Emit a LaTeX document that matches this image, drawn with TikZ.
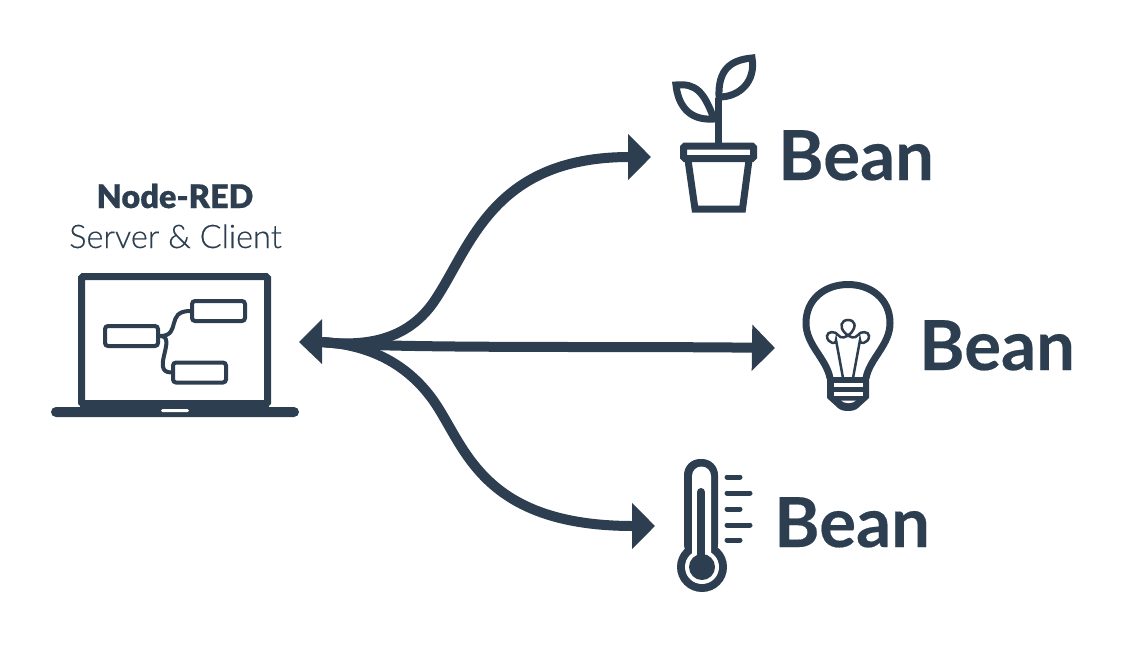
\documentclass[tikz,border=0pt]{standalone}
\usepackage{fontspec}
\setmainfont{Lato}
\newfontfamily\latolight[FakeBold=0.35]{Lato Light}
\newfontfamily\latoblack[FakeBold=0.5]{Lato Black}
\newfontfamily\latobean[FakeBold=0.25]{Lato Bold}
\usetikzlibrary{arrows.meta}
\definecolor{ink}{HTML}{2C3E50}
\tikzset{
  flow/.style={draw=ink,line width=10pt,-{Triangle[length=23pt,width=45pt]}},
  beanlabel/.style={text=ink,anchor=base west,inner sep=0pt,font=\latobean\fontsize{69}{69}\selectfont},
  captionbold/.style={text=ink,anchor=base,inner sep=0pt,font=\latoblack\fontsize{32.5}{32.5}\selectfont},
  captionlight/.style={text=ink,anchor=base,inner sep=0pt,font=\latolight\fontsize{32.5}{32.5}\selectfont},
  flowbox/.style={draw=ink,line width=4pt,rounded corners=3pt,fill=white,inner sep=0pt,minimum width=53pt,minimum height=20pt},
  wire/.style={draw=ink,line width=4pt},
  icon/.style={draw=ink,line width=7pt,line join=miter},
  tick/.style={draw=ink,line width=5pt,line cap=round},
}
\begin{document}
\begin{tikzpicture}[x=1pt,y=-1pt]
\useasboundingbox (0,0) rectangle (1126,646);
% text
\node[captionbold] (title) at (175,208) {Node-RED};
\node[captionlight] (sub) at (175.5,248) {Server \& Client};
\node[beanlabel] (bean1) at (778,180) {Bean};
\node[beanlabel] (bean2) at (919,370) {Bean};
\node[beanlabel] (bean3) at (774,547) {Bean};
% laptop
\draw[draw=ink,line width=7pt,rounded corners=1.5pt] (81.5,276.5) rectangle (267.5,404);
\fill[ink,rounded corners=5pt] (51,407) rectangle (299,417);
\fill[ink] (80,400) rectangle (269,409);
\fill[white,rounded corners=1.5pt] (161,409) rectangle (189,412);
\node[flowbox] (n1) at (131.5,336) {};
\node[flowbox] (n2) at (218.5,311) {};
\node[flowbox] (n3) at (199.5,372.5) {};
\draw[wire] (n1.east) .. controls (182,336) and (165,311) .. (n2.west);
\draw[wire] (n1.east) .. controls (178,336) and (150,372) .. (n3.west);
% connectors
\coordinate (hub) at (322,342);
\coordinate (hubtip) at (299,342);
\coordinate (plantin) at (651,157);
\coordinate (bulbin) at (775,348);
\coordinate (thermin) at (655,526);
\draw[flow] (hub) .. controls (375,348) and (410,335) .. (433,303)
  .. controls (470,250) and (490,157) .. (plantin);
\draw[flow] (hub) .. controls (380,349) and (620,346) .. (bulbin);
\draw[flow] (hub) .. controls (375,345) and (410,368) .. (433,400)
  .. controls (465,445) and (480,526) .. (thermin);
\fill[ink] (hubtip) -- (322,319) -- (322,364) -- cycle;
% plant
\draw[icon] (688,160) -- (695,209) -- (742.5,209) -- (749,160);
\draw[draw=ink,line width=7pt,rounded corners=1.5pt,fill=white] (683.5,146) rectangle (753.5,158.5);
\draw[draw=ink,line width=7pt] (718.5,145) -- (718.5,98);
\draw[icon] (752,58) .. controls (730,60) and (718,70) .. (719,97) .. controls (740,97) and (756,81) .. (752,58) -- cycle;
\draw[icon] (676,85) .. controls (696,83) and (704,92) .. (714,119) .. controls (688,121) and (678,104) .. (676,85) -- cycle;
% bulb
\draw[draw=ink,line width=7pt] (830,378) .. controls (826,358) and (806,345) .. (806,323)
  .. controls (806,299) and (825,284.5) .. (848,284.5)
  .. controls (871,284.5) and (890,299) .. (890,323)
  .. controls (890,345) and (870,358) .. (866,378);
\fill[ink] (869,377) -- (869,398) -- (858,408) .. controls (854,412) and (842,412) .. (838,408) -- (827,398) -- (827,377) -- cycle;
\fill[white] (834,383) rectangle (863,387);
\fill[white] (834,392) rectangle (863,396);
\fill[white] (841,400.5) -- (856,400.5) .. controls (853,404) and (844,404) .. (841,400.5) -- cycle;
\draw[draw=ink,line width=2.5pt]
  (843,378) -- (836,340) .. controls (838,345) and (827,344) .. (827,336)
  .. controls (827,331) and (836,331) .. (838,335) .. controls (841,339) and (846,338) .. (851,333)
  .. controls (857,326) and (855,320) .. (848,320) .. controls (841,320) and (839,327) .. (845,333)
  .. controls (850,338) and (855,339) .. (858,335) .. controls (860,331) and (869,331) .. (869,336)
  .. controls (869,344) and (858,345) .. (860,340) -- (853,378);
% thermometer
\fill[ink] (702,567) circle (25);
\fill[ink,rounded corners=16pt] (684,459) rectangle (718,560);
\fill[white] (692,555) -- (692,476) arc (180:360:9.5) -- (711,555) -- cycle;
\fill[white] (702,567) circle (17);
\fill[ink] (702,567) circle (13);
\draw[draw=ink,line width=8pt,line cap=round] (701,492) -- (701,560);
\draw[tick] (727,477) -- (740,477);
\draw[tick] (727,493) -- (750,493);
\draw[tick] (727,509) -- (740,509);
\draw[tick] (727,525) -- (750,525);
\draw[tick] (727,540) -- (740,540);
\end{tikzpicture}
\end{document}
